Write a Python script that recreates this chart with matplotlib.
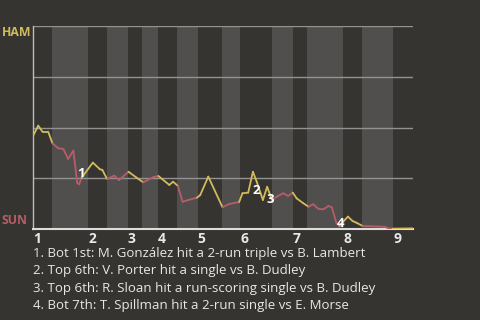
import matplotlib
matplotlib.use("Agg")
import matplotlib.pyplot as plt
from matplotlib.collections import LineCollection
import numpy as np

# --- data ---------------------------------------------------------------
# game progress (plate-appearance units) and HAM win probability
progress = [0, 1.1, 2.0, 3.2, 4.1, 5.3, 6.4, 7.4, 8.5, 9.3, 9.7, 10.2, 12.6, 14.1, 14.6,
            15.6, 17.1, 18.1, 20.1, 21.8, 23.2, 25.3, 26.4, 28.7, 29.5, 30.5, 31.5,
            32.7, 34.5, 35.2, 36.9, 39.9, 41.3, 43.4, 44.1, 45.3, 46.3, 47.1, 48.4,
            49.3, 50.3, 51.6, 52.7, 53.7, 54.7, 55.5, 56.9, 58.0, 59.0, 60.1, 61.1,
            62.2, 62.9, 63.9, 64.5, 65.3, 66.3, 67.3, 68.1, 69.4, 74.1, 74.8, 75.7, 80.1]
ham_wp = [0.458, 0.509, 0.479, 0.479, 0.422, 0.398, 0.394, 0.345, 0.386, 0.228, 0.220,
          0.251, 0.327, 0.294, 0.291, 0.246, 0.263, 0.241, 0.282, 0.253, 0.230, 0.255,
          0.261, 0.217, 0.233, 0.212, 0.134, 0.143, 0.154, 0.167, 0.258, 0.107, 0.123,
          0.133, 0.176, 0.179, 0.282, 0.233, 0.143, 0.208, 0.143, 0.163, 0.176, 0.163,
          0.179, 0.151, 0.127, 0.110, 0.122, 0.099, 0.097, 0.113, 0.107, 0.028, 0.015,
          0.036, 0.061, 0.039, 0.031, 0.015, 0.011, 0.003, 0.0015, 0.003]
# team batting for the segment ending at each point (H = HAM, S = SUN)
batting = ["H", "H", "H", "H", "H", "S", "S", "S", "S", "S", "S", "S", "H", "H", "H",
           "H", "S", "S", "S", "H", "H", "S", "S", "H", "H", "H", "S", "S", "S", "H",
           "H", "H", "S", "S", "H", "H", "H", "H", "H", "H", "H", "S", "S", "S", "S",
           "H", "H", "H", "S", "S", "S", "S", "S", "S", "S", "H", "H", "H", "H", "H",
           "S", "S", "S", "H"]

# half-inning boundaries (start of each half) and game end
half_starts = [0, 4, 11.6, 15.6, 20, 22.9, 26.3, 30.3, 34.7, 39.8, 43.6, 50.3,
               54.7, 57.7, 65.3, 69.3, 75.8]
game_end = 80
inning_labels = ["1", "2", "3", "4", "5", "6", "7", "8", "9"]

# key events: label, position, win-prob position of the marker text
event_ids = ["1", "2", "3", "4"]
event_x = [9.3, 46.3, 49.1, 63.9]
event_y = [0.271, 0.192, 0.143, 0.025]
event_text = [
    "1. Bot 1st: M. González hit a 2-run triple vs B. Lambert",
    "2. Top 6th: V. Porter hit a single vs B. Dudley",
    "3. Top 6th: R. Sloan hit a run-scoring single vs B. Dudley",
    "4. Bot 7th: T. Spillman hit a 2-run single vs E. Morse",
]
teams = ["HAM", "SUN"]

# --- style --------------------------------------------------------------
BG = "#363430"
BAND = "#504f4d"
YEL = "#d2bb5c"
RED = "#b85d68"
TXT = "#e8e8e8"
plt.rcParams['font.family'] = ['Open Sans', 'DejaVu Sans']

fig = plt.figure(figsize=(4.8, 3.2), dpi=100, facecolor=BG)
ax = fig.add_axes([33/480, 1-229/320, 380/480, 203/320])
ax.set_facecolor(BG)
ax.set_xlim(0, game_end)
ax.set_ylim(0, 1)

# bands (bottom halves are lighter)
bounds = half_starts + [game_end]
for i in range(len(half_starts)):
    if i % 2 == 1:
        ax.axvspan(bounds[i], bounds[i+1], color=BAND, lw=0, zorder=0)

for gy in [0.25, 0.5, 0.75, 1.0]:
    ax.axhline(gy, color="#939290", lw=1.0, zorder=1)

# line segments
pts = np.column_stack([progress, ham_wp])
segs = [pts[i:i+2] for i in range(len(pts)-1)]
cols = [YEL if b == "H" else RED for b in batting[1:]]
lc = LineCollection(segs, colors=cols, linewidths=1.3, zorder=3,
                    capstyle="round", joinstyle="round")
ax.add_collection(lc)

for lab, ex, ey in zip(event_ids, event_x, event_y):
    ax.text(ex, ey, lab, color="white", fontsize=9.5, fontweight="bold",
            ha="left", va="center", zorder=4)

for s in ["top", "right"]:
    ax.spines[s].set_visible(False)
ax.spines["left"].set_color("#bdbdbd")
ax.spines["left"].set_linewidth(1.0)
ax.spines["bottom"].set_color("#dcdcdc")
ax.spines["bottom"].set_linewidth(1.5)

ax.set_yticks([])
ax.set_xticks(half_starts[0::2][:len(inning_labels)])
ax.set_xticklabels(inning_labels, color=TXT, fontsize=10, fontweight="bold", ha="left")
ax.tick_params(axis="x", length=0, pad=2)

fig.text(2/480, 1-33/320, teams[0], color=YEL, fontsize=8.8, fontweight="bold",
         ha="left", va="center")
fig.text(2/480, 1-221/320, teams[1], color=RED, fontsize=8.8, fontweight="bold",
         ha="left", va="center")

for i, t in enumerate(event_text):
    fig.text(33/480, 1-(253+17.6*i)/320, t, color=TXT, fontsize=9.5,
             ha="left", va="center")

fig.savefig("out.png", dpi=100, facecolor=BG)
